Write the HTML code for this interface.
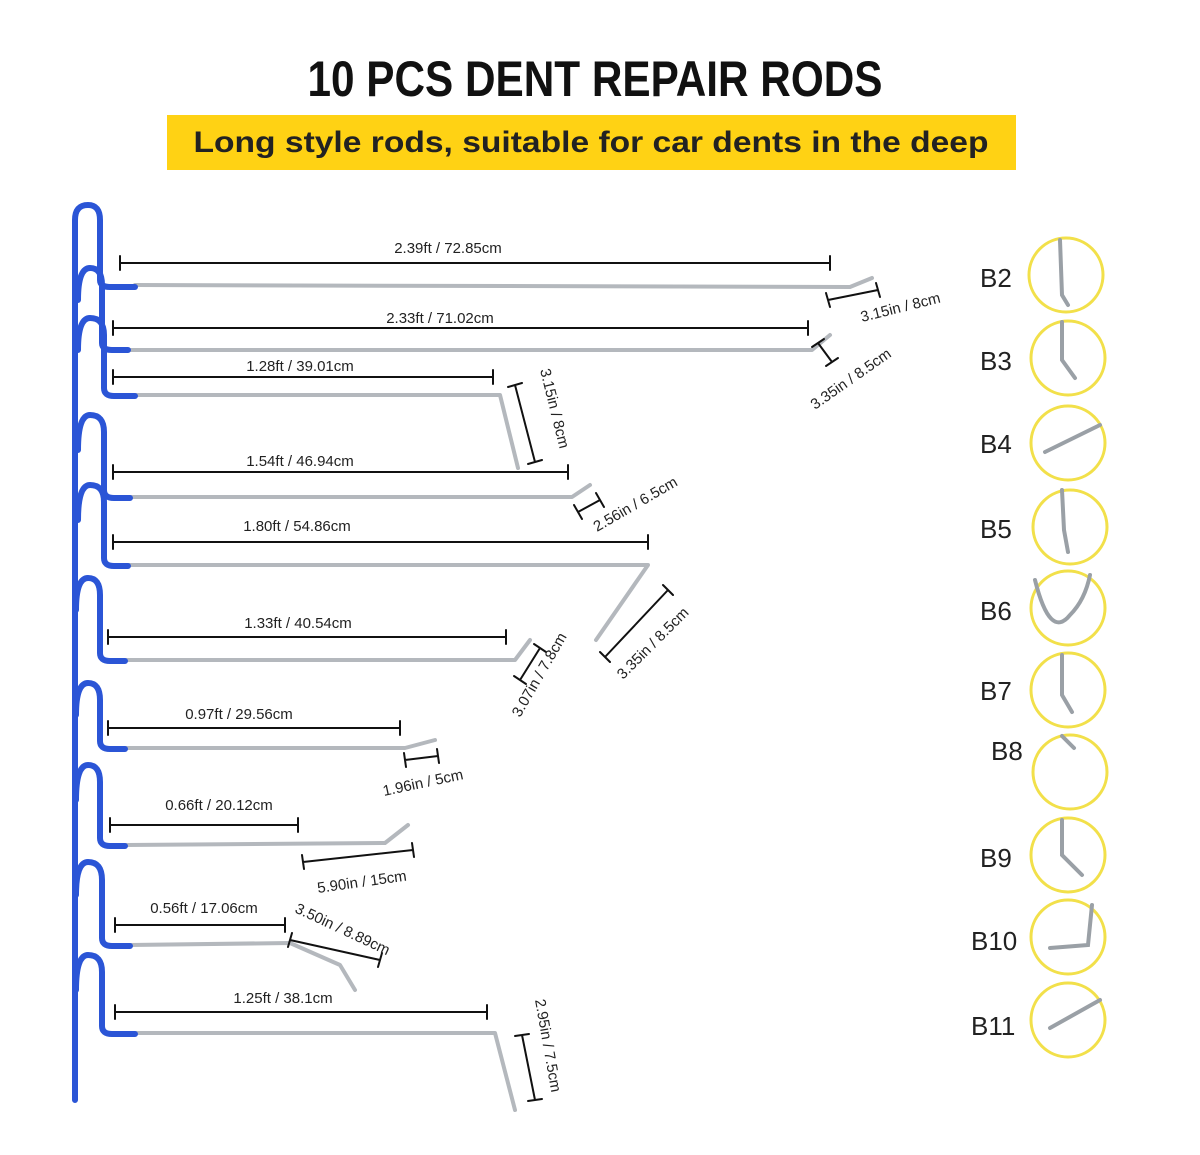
<!DOCTYPE html>
<html><head><meta charset="utf-8"><style>
html,body{margin:0;padding:0;background:#fff;}
svg{display:block;}
text{font-family:"Liberation Sans",sans-serif;}
</style></head><body>
<svg width="1200" height="1155" viewBox="0 0 1200 1155" xmlns="http://www.w3.org/2000/svg">
<text x="595" y="96" text-anchor="middle" font-size="50" font-weight="bold" textLength="575" lengthAdjust="spacingAndGlyphs" fill="#111">10 PCS DENT REPAIR RODS</text>
<rect x="167" y="115" width="849" height="55" fill="#ffd214"/>
<text x="591" y="152" text-anchor="middle" font-size="30" font-weight="bold" fill="#222" textLength="795" lengthAdjust="spacingAndGlyphs">Long style rods, suitable for car dents in the deep</text>

<g fill="none" stroke-linecap="round" stroke-linejoin="round">
<g stroke="#b4b8bd" stroke-width="4">
<path d="M135 285 L850 287 L872 278"/>
<path d="M128 350 L812 350 L830 335"/>
<path d="M135 395 L500 395 L518 468"/>
<path d="M130 497 L572 497 L590 485"/>
<path d="M128 565 L648 565 L596 640"/>
<path d="M125 660 L515 660 L530 640"/>
<path d="M125 748 L405 748 L435 740"/>
<path d="M125 845 L385 843 L408 825"/>
<path d="M130 945 L290 943 L340 965 L355 990"/>
<path d="M135 1033 L495 1033 L515 1110"/>
</g>
<g stroke="#2b55d6" stroke-width="6">
<path d="M75 1100 L75 220 Q75 205 88 205 Q100 205 100 220 L100 280 Q100 287 110 287 L135 287"/>
<path d="M78 300 Q78 268 90 268 Q102 268 102 285 L102 343 Q102 350 112 350 L128 350"/>
<path d="M78 350 Q78 318 90 318 Q104 318 104 335 L104 388 Q104 396 114 396 L135 396"/>
<path d="M78 450 Q78 415 90 415 Q104 415 104 432 L104 490 Q104 498 114 498 L130 498"/>
<path d="M78 520 Q78 485 90 485 Q104 485 104 502 L104 558 Q104 566 114 566 L128 566"/>
<path d="M76 610 Q76 578 88 578 Q100 578 100 595 L100 653 Q100 661 110 661 L125 661"/>
<path d="M76 715 Q76 683 88 683 Q100 683 100 700 L100 741 Q100 749 110 749 L125 749"/>
<path d="M76 800 Q76 765 88 765 Q100 765 100 782 L100 838 Q100 846 110 846 L125 846"/>
<path d="M76 895 Q76 862 88 862 Q102 862 102 880 L102 938 Q102 946 112 946 L130 946"/>
<path d="M76 990 Q76 955 88 955 Q102 955 102 972 L102 1026 Q102 1034 112 1034 L135 1034"/>
</g>
<g stroke="#111" stroke-width="2">
<path d="M120 263 H830 M120 256 V270 M830 256 V270"/>
<path d="M113 328 H808 M113 321 V335 M808 321 V335"/>
<path d="M113 377 H493 M113 370 V384 M493 370 V384"/>
<path d="M113 472 H568 M113 465 V479 M568 465 V479"/>
<path d="M113 542 H648 M113 535 V549 M648 535 V549"/>
<path d="M108 637 H506 M108 630 V644 M506 630 V644"/>
<path d="M108 728 H400 M108 721 V735 M400 721 V735"/>
<path d="M110 825 H298 M110 818 V832 M298 818 V832"/>
<path d="M115 925 H285 M115 918 V932 M285 918 V932"/>
<path d="M115 1012 H487 M115 1005 V1019 M487 1005 V1019"/>
<path d="M828 300 L878 290 M826 293 L830 307 M876 283 L880 297"/>
<path d="M818 343 L832 362 M812 347 L824 339 M826 366 L838 358"/>
<path d="M515 385 L535 462 M508 387 L522 383 M528 464 L542 460"/>
<path d="M578 512 L600 500 M574 505 L582 519 M596 493 L604 507"/>
<path d="M605 657 L668 590 M600 652 L610 662 M663 585 L673 595"/>
<path d="M520 680 L540 648 M514 676 L526 684 M534 644 L546 652"/>
<path d="M405 760 L438 756 M404 753 L406 767 M437 749 L439 763"/>
<path d="M303 862 L413 850 M302 855 L304 869 M412 843 L414 857"/>
<path d="M290 940 L380 960 M292 933 L288 947 M382 953 L378 967"/>
<path d="M522 1035 L535 1100 M515 1036 L529 1034 M528 1101 L542 1099"/>
</g>
</g>

<g font-size="15" fill="#222">
<text x="448" y="253" text-anchor="middle">2.39ft / 72.85cm</text>
<text x="440" y="323" text-anchor="middle">2.33ft / 71.02cm</text>
<text x="300" y="371" text-anchor="middle">1.28ft / 39.01cm</text>
<text x="300" y="466" text-anchor="middle">1.54ft / 46.94cm</text>
<text x="297" y="531" text-anchor="middle">1.80ft / 54.86cm</text>
<text x="298" y="628" text-anchor="middle">1.33ft / 40.54cm</text>
<text x="239" y="719" text-anchor="middle">0.97ft / 29.56cm</text>
<text x="219" y="810" text-anchor="middle">0.66ft / 20.12cm</text>
<text x="204" y="913" text-anchor="middle">0.56ft / 17.06cm</text>
<text x="283" y="1003" text-anchor="middle">1.25ft / 38.1cm</text>
<text transform="translate(862,322) rotate(-14)">3.15in / 8cm</text>
<text transform="translate(815,410) rotate(-35)">3.35in / 8.5cm</text>
<text transform="translate(540,370) rotate(76)">3.15in / 8cm</text>
<text transform="translate(597,532) rotate(-30)">2.56in / 6.5cm</text>
<text transform="translate(623,680) rotate(-45)">3.35in / 8.5cm</text>
<text transform="translate(520,718) rotate(-60)">3.07in / 7.8cm</text>
<text transform="translate(384,796) rotate(-12)">1.96in / 5cm</text>
<text transform="translate(318,893) rotate(-8)">5.90in / 15cm</text>
<text transform="translate(294,912) rotate(25)">3.50in / 8.89cm</text>
<text transform="translate(535,1000) rotate(80)">2.95in / 7.5cm</text>
</g>

<g fill="none" stroke="#f2e04a" stroke-width="3">
<circle cx="1066" cy="275" r="37"/><circle cx="1068" cy="358" r="37"/>
<circle cx="1068" cy="443" r="37"/><circle cx="1070" cy="527" r="37"/>
<circle cx="1068" cy="608" r="37"/><circle cx="1068" cy="690" r="37"/>
<circle cx="1070" cy="772" r="37"/><circle cx="1068" cy="855" r="37"/>
<circle cx="1068" cy="937" r="37"/><circle cx="1068" cy="1020" r="37"/>
</g>
<g fill="none" stroke="#9aa0a6" stroke-width="4" stroke-linecap="round">
<path d="M1060 240 L1062 295 L1068 305"/>
<path d="M1062 322 L1062 360 L1075 378"/>
<path d="M1100 425 L1045 452"/>
<path d="M1062 490 L1064 530 L1068 552"/>
<path d="M1035 580 Q1050 640 1070 615 Q1085 600 1090 575"/>
<path d="M1062 655 L1062 695 L1072 712"/>
<path d="M1062 736 L1074 748"/>
<path d="M1062 820 L1062 855 L1082 875"/>
<path d="M1092 905 L1088 945 L1050 948"/>
<path d="M1100 1000 L1050 1028"/>
</g>
<g font-size="26" fill="#222">
<text x="980" y="287">B2</text><text x="980" y="370">B3</text>
<text x="980" y="453">B4</text><text x="980" y="538">B5</text>
<text x="980" y="620">B6</text><text x="980" y="700">B7</text>
<text x="991" y="760">B8</text><text x="980" y="867">B9</text>
<text x="971" y="950">B10</text><text x="971" y="1035">B11</text>
</g>
</svg>
</body></html>
